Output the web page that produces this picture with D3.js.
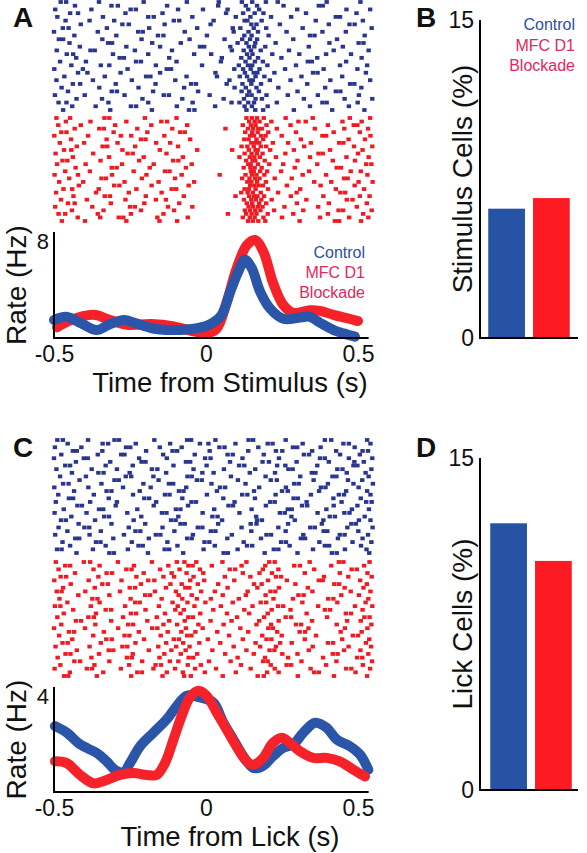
<!DOCTYPE html>
<html><head><meta charset="utf-8">
<script src="https://cdn.jsdelivr.net/npm/d3@7"></script>
<style>body{margin:0;background:#fff}svg{display:block;font-family:"Liberation Sans",Arial,sans-serif}</style>
</head><body><svg id="c" width="587" height="853"></svg>
<script>
// ---------- DATA ----------
const groups = ["Control", "MFC D1 Blockade"];
const stimCellsPct = [6.1, 6.6];
const lickCellsPct = [12.05, 10.35];
const xTicks = [-0.5, 0, 0.5];
const xTickLabels = ["-0.5", "0", "0.5"];
const yMaxStim = 8, yMaxLick = 4, barMax = 15;

// PSTH: [time (s), rate (Hz)]
const stimControl = [[-0.50,1.36],[-0.46,1.6],[-0.41,1.1],[-0.36,0.6],[-0.32,1.0],[-0.27,1.36],[-0.23,1.1],[-0.17,0.7],[-0.11,0.6],[-0.04,0.7],[0.01,1.0],[0.05,1.7],[0.08,3.5],[0.106,5.0],[0.128,5.9],[0.15,5.3],[0.178,3.5],[0.21,2.24],[0.254,1.45],[0.31,1.55],[0.342,1.6],[0.375,1.15],[0.42,0.6],[0.452,0.35],[0.49,0.1]];
const stimBlockade = [[-0.49,0.8],[-0.45,1.3],[-0.37,1.75],[-0.32,1.4],[-0.26,1.0],[-0.18,1.05],[-0.11,0.9],[-0.04,0.5],[0.0,0.35],[0.035,0.7],[0.068,2.7],[0.10,5.2],[0.134,7.0],[0.161,7.4],[0.189,6.5],[0.22,4.2],[0.254,2.5],[0.287,1.9],[0.342,2.1],[0.375,2.05],[0.419,1.75],[0.463,1.5],[0.50,1.28]];
const lickControl = [[-0.497,2.51],[-0.458,2.26],[-0.414,1.81],[-0.36,1.49],[-0.327,1.17],[-0.30,0.85],[-0.272,0.75],[-0.25,1.1],[-0.217,1.74],[-0.173,2.26],[-0.129,2.77],[-0.096,3.28],[-0.063,3.67],[-0.02,3.6],[0.024,3.41],[0.057,2.64],[0.09,2.0],[0.123,1.36],[0.156,0.91],[0.188,1.0],[0.22,1.36],[0.254,1.68],[0.287,1.81],[0.32,2.26],[0.359,2.64],[0.397,2.45],[0.43,2.0],[0.474,1.74],[0.507,1.42],[0.534,0.85]];
const lickBlockade = [[-0.497,1.17],[-0.458,1.1],[-0.414,0.65],[-0.37,0.33],[-0.327,0.46],[-0.283,0.65],[-0.239,0.72],[-0.195,0.65],[-0.162,0.65],[-0.135,1.1],[-0.107,2.0],[-0.08,2.9],[-0.053,3.6],[-0.025,3.86],[0.002,3.67],[0.035,3.03],[0.068,2.38],[0.10,1.74],[0.134,1.17],[0.156,1.04],[0.188,1.3],[0.22,1.87],[0.249,2.07],[0.276,1.87],[0.309,1.55],[0.353,1.3],[0.397,1.3],[0.44,1.17],[0.485,0.85],[0.523,0.59]];

// Rasters: spike times in ms, one array per trial
const rasterStimControl = [
[-478,-460,-352,-205,-63,42,118,152,197,236,397,508],[-431,-311,-290,-128,40,131,168,255,371,384],[-496,-377,-248,-231,-92,-10,71,139,175,300,462,540],
[-447,-421,-265,-143,66,122,160,189,329,495],[-489,-339,-190,-172,-45,98,146,214,280,427,441],[-462,-383,-302,-106,-88,25,127,136,183,361,516],
[-412,-275,-254,-136,15,149,166,243,404,472,489],[-471,-452,-326,-187,-29,88,113,157,198,318,545],[-500,-356,-223,-208,-70,91,140,171,265,383,460],
[-433,-295,-158,-140,3,126,150,206,342,357,522],[-484,-470,-341,-212,-54,61,119,145,168,287,431],[-449,-322,-309,-177,-83,104,133,162,229,406,502,518],
[-415,-262,-151,-20,-6,80,141,159,195,338,450],[-491,-380,-366,-234,-112,85,124,148,180,273,420,535],[-458,-437,-306,-190,-39,17,135,153,218,307,395,477],
[-427,-284,-270,-121,52,116,143,171,248,366,512],[-480,-395,-230,-214,-97,49,130,161,187,335,348,461],[-443,-346,-318,-165,-13,108,138,152,202,296,441,530],
[-499,-405,-258,-129,-115,93,122,147,176,260,387,498],[-421,-390,-281,-151,31,128,157,169,225,352,367,526],[-466,-333,-197,-183,-64,36,111,135,163,192,314,448],
[-492,-372,-244,-101,77,143,154,210,278,409,540],[-438,-414,-297,-166,-49,-33,68,120,149,181,333,474,488],[-475,-351,-222,-72,94,131,166,238,392,511],
[-454,-310,-293,-174,-26,117,142,174,301,427,442],[-497,-399,-268,-139,-122,12,136,150,199,269,368,503],[-426,-342,-209,-78,58,125,163,184,322,456,547],
[-485,-459,-321,-190,-44,84,110,139,158,233,383,397,499],[-440,-363,-247,-230,-96,30,127,151,203,342,470],[-470,-315,-178,-56,-38,133,162,188,289,415,521]];
const rasterStimBlockade = [
[-492,-447,-334,-318,-201,-97,133,151,168,190,262,351,473,540],[-461,-380,-262,-147,-128,142,160,176,215,304,328,449,512],[-486,-412,-299,-180,-62,121,148,163,199,278,401,486,498],
[-432,-351,-336,-226,-111,64,138,155,172,184,233,358,455,533],[-476,-459,-304,-193,-85,-70,129,152,170,205,296,420,506],[-499,-388,-280,-246,-137,145,158,181,196,249,383,395,541],
[-444,-327,-214,-199,-52,126,140,166,188,312,469,523],[-481,-401,-291,-164,-118,149,161,175,220,270,345,438,452],[-425,-340,-325,-233,-92,117,136,157,180,198,323,487,547],
[-467,-443,-275,-152,-29,86,141,163,170,211,289,408,515],[-495,-371,-258,-241,-130,127,150,167,186,261,370,384,500],[-438,-319,-205,-76,110,144,159,177,230,342,462,535],
[-472,-456,-347,-220,-108,-91,132,153,162,193,301,417,490],[-490,-396,-276,-172,-47,139,147,171,208,254,366,527,544],[-429,-310,-294,-185,-66,124,146,160,183,292,430,444],
[-463,-382,-238,-135,-120,148,157,178,201,247,339,476,509],[-498,-421,-309,-196,-80,45,130,151,166,192,318,395,531],[-450,-344,-329,-211,-102,119,143,161,176,226,282,454,466],
[-483,-404,-268,-156,-39,136,149,168,197,356,412,502,548],[-418,-302,-285,-179,-57,145,159,173,187,266,377,489],[-469,-440,-353,-229,-113,-98,127,141,163,204,310,427,520],
[-493,-362,-254,-146,116,137,154,180,237,298,442,458],[-436,-333,-316,-198,-73,97,142,158,169,191,279,386,506,538],[-477,-392,-265,-165,-132,125,149,164,182,216,330,463,482],
[-454,-432,-313,-203,-88,134,152,175,198,299,404,529],[-496,-374,-250,-234,-125,-45,140,155,171,186,258,369,496],[-441,-337,-214,-105,128,145,162,179,224,320,436,451,545],
[-485,-463,-356,-247,-140,72,132,150,166,203,287,401,517],[-422,-348,-287,-272,-160,-60,121,144,160,189,250,375,471,534],[-474,-398,-262,-153,-95,138,154,172,195,308,424,438,510]];
const rasterLickControl = [
[-489,-471,-388,-301,-286,-170,-62,-49,31,140,155,262,391,412,530],[-455,-340,-322,-231,-118,-20,8,97,203,219,318,452,470,541],[-497,-410,-263,-249,-152,-80,44,61,172,286,300,377,489],
[-438,-425,-341,-197,-110,-95,12,139,230,251,349,428,515,533],[-476,-356,-279,-268,-141,-37,71,88,190,322,339,441,506],[-500,-402,-389,-220,-129,-3,15,120,240,375,391,470,547],
[-428,-315,-212,-199,-66,-52,79,186,207,298,404,488,519],[-463,-447,-330,-241,-107,2,109,126,234,261,366,485,498],[-492,-376,-293,-178,-160,-41,59,162,271,285,432,449,544],
[-441,-354,-337,-251,-131,-12,25,144,227,348,360,463,525],[-480,-395,-264,-246,-173,-61,-47,82,196,310,416,429,535],[-416,-301,-287,-156,-30,-14,105,213,233,354,467,514],
[-470,-452,-344,-206,-122,-108,18,130,290,305,401,485,549],[-499,-387,-273,-182,-65,46,63,175,263,378,393,502],[-434,-327,-311,-218,-89,-74,36,158,250,269,372,461,530],
[-486,-369,-240,-135,-120,3,119,136,229,345,437,454,541],[-451,-437,-320,-203,-187,-78,57,161,288,302,419,509],[-494,-381,-293,-164,-48,-33,94,211,226,331,446,527,545],
[-423,-408,-297,-172,-59,74,89,197,316,333,420,498],[-468,-352,-338,-226,-99,-84,27,150,269,282,396,480,536],[-498,-393,-259,-145,-130,-11,110,243,259,367,455,472],
[-443,-335,-319,-213,-91,21,38,165,281,407,424,522],[-477,-461,-365,-238,-115,-100,53,168,184,292,386,503,541],[-419,-311,-200,-84,-70,40,147,166,270,381,478,493],
[-485,-400,-384,-254,-143,-27,-12,117,238,343,358,465,548],[-456,-346,-232,-216,-104,16,31,149,262,387,399,501],[-496,-383,-270,-165,-150,-43,85,199,214,320,440,456,533],
[-430,-417,-305,-188,-62,-47,70,181,312,326,434,515],[-472,-362,-347,-244,-127,-5,11,124,247,263,373,482,544],[-447,-330,-222,-208,-94,29,135,152,275,391,405,510],
[-490,-475,-372,-257,-136,-121,-8,104,223,238,352,457,528],[-426,-318,-303,-191,-75,58,72,193,301,414,430,537]];
const rasterLickBlockade = [
[-494,-402,-381,-290,-178,-96,-71,-32,54,133,208,226,341,437,452,538],[-463,-447,-350,-237,-124,-58,-44,19,117,195,290,309,412,520],[-485,-370,-262,-245,-151,-87,-20,78,96,187,238,356,479,496],
[-431,-327,-309,-205,-113,-64,-9,121,176,217,325,440,531],[-478,-460,-354,-229,-140,-105,-41,62,146,230,247,388,468,545],[-499,-386,-278,-190,-170,-52,-6,93,204,266,371,384,507],
[-445,-341,-323,-214,-117,-80,-27,40,158,183,294,422,438,529],[-470,-366,-251,-233,-132,-68,-55,71,169,240,335,456,518],[-491,-475,-397,-283,-168,-99,-16,29,137,212,228,350,476,541],
[-420,-318,-200,-184,-90,-47,55,131,196,304,321,445,503],[-482,-374,-357,-248,-146,-78,-30,16,108,222,286,402,419,534],[-456,-350,-233,-218,-110,-61,-2,88,180,198,317,432,525],
[-497,-479,-379,-266,-155,-93,-38,49,153,237,254,369,490,547],[-437,-330,-312,-199,-101,-73,24,126,216,278,391,408,515],[-468,-362,-247,-230,-135,-84,-19,69,142,203,331,460,477],
[-489,-387,-369,-273,-162,-58,-43,102,191,262,280,398,521,538],[-428,-411,-312,-193,-121,-70,15,84,175,239,349,464,509],[-476,-364,-256,-240,-140,-95,-25,58,166,214,296,313,430,544],
[-500,-398,-289,-177,-160,-66,-11,113,205,220,337,457,531],[-451,-434,-336,-221,-126,-81,-35,37,139,234,308,326,443,512],[-483,-371,-268,-252,-149,-62,-48,76,185,249,362,483,500],
[-440,-328,-310,-204,-106,-89,6,121,199,215,325,448,537],[-472,-455,-346,-232,-131,-75,-22,47,163,244,282,401,418,526],[-495,-383,-275,-259,-157,-98,-54,91,178,230,351,469,543],
[-425,-320,-305,-188,-114,-67,21,133,209,225,338,454,508],[-462,-446,-352,-241,-137,-83,-29,63,157,251,301,417,433,534],[-488,-377,-260,-244,-153,-57,-42,104,194,270,385,497,514],
[-433,-414,-318,-210,-119,-91,10,81,188,203,314,429,546],[-479,-367,-253,-166,-148,-60,-17,115,213,265,280,395,516],[-498,-392,-375,-280,-173,-102,-36,33,147,226,344,461,478,540],
[-448,-338,-226,-211,-129,-76,-4,98,201,239,356,371,492],[-467,-453,-359,-246,-143,-72,-50,55,170,190,302,421,530]];

// ---------- STYLE ----------
const C = {rasterBlue:"#2a368e", rasterRed:"#f01a22", lineBlue:"#2b55a8", lineRed:"#f5222a",
  barBlue:"#2653a4", barRed:"#fd1a22", txtBlue:"#2d4f9f", txtRed:"#e2285a"};
const svg = d3.select("#c");
const F = '"Liberation Sans",Arial,sans-serif';

function raster(rows, x, y0, y1, color){
  const y = d3.scaleLinear().domain([0, rows.length-1]).range([y0, y1]);
  const pts = rows.flatMap((r,i)=>r.map(t=>({t:t/1000,i})));
  svg.append("g").selectAll("rect").data(pts).join("rect")
    .attr("x", d=>x(d.t)-2.2).attr("y", d=>y(d.i)-1.9).attr("width",4.4).attr("height",3.8)
    .attr("fill", color);
}
function psth(x, yTop, yBot, yMax, series, xTitle, titleY){
  const y = d3.scaleLinear().domain([0,yMax]).range([yBot,yTop]);
  const line = d3.line().x(d=>x(d[0])).y(d=>y(d[1])).curve(d3.curveCatmullRom.alpha(0.5));
  series.forEach(s=>{
    svg.append("path").attr("d", line(s.data)).attr("fill","none").attr("stroke",s.color)
      .attr("stroke-width",10).attr("stroke-linecap","round").attr("stroke-linejoin","round");
  });
  const ax = svg.append("g").attr("transform",`translate(0,${yBot})`)
    .call(d3.axisBottom(x).tickValues(xTicks).tickSize(0).tickFormat((d,i)=>xTickLabels[i]));
  ax.select(".domain").remove();
  ax.selectAll("text").attr("font-size",23).attr("font-family",F).attr("fill","#111").attr("dy",null).attr("y",24);
  svg.append("line").attr("x1",x(-0.5)).attr("x2",x(0.535)).attr("y1",yBot).attr("y2",yBot).attr("stroke","#000").attr("stroke-width",2);
  svg.append("line").attr("x1",x(-0.5)).attr("x2",x(-0.5)).attr("y1",yTop).attr("y2",yBot+1).attr("stroke","#000").attr("stroke-width",2);
  svg.append("text").attr("x",x(-0.5)-5).attr("y",yTop+17).attr("text-anchor","end").attr("font-size",22).attr("font-family",F).attr("fill","#111").text(yMax);
  svg.append("text").attr("x",x(0)+24).attr("y",titleY).attr("text-anchor","middle").attr("font-size",27.5).attr("font-family",F).attr("fill","#111").text(xTitle);
  svg.append("text").attr("transform",`translate(26,${(yTop+yBot)/2}) rotate(-90)`).attr("text-anchor","middle").attr("font-size",28).attr("font-family",F).attr("fill","#111").text("Rate (Hz)");
}
function bars(vals, y0, y1, xr, title){
  const x = d3.scaleBand().domain(groups).range(xr).paddingInner(0.18).paddingOuter(0.05);
  const y = d3.scaleLinear().domain([0,barMax]).range([y1,y0]);
  svg.append("g").selectAll("rect").data(groups).join("rect")
    .attr("x",d=>x(d)).attr("width",x.bandwidth()).attr("y",(d,i)=>y(vals[i])).attr("height",(d,i)=>y(0)-y(vals[i]))
    .attr("fill",(d,i)=>i?C.barRed:C.barBlue);
  svg.append("line").attr("x1",480).attr("x2",480).attr("y1",y(barMax)).attr("y2",y(0)).attr("stroke","#000").attr("stroke-width",2);
  svg.append("line").attr("x1",479).attr("x2",578).attr("y1",y(0)).attr("y2",y(0)).attr("stroke","#000").attr("stroke-width",2);
  svg.append("text").attr("x",474).attr("y",y(barMax)+8).attr("text-anchor","end").attr("font-size",23).attr("font-family",F).attr("fill","#111").text(barMax);
  svg.append("text").attr("x",474).attr("y",y(0)+8).attr("text-anchor","end").attr("font-size",23).attr("font-family",F).attr("fill","#111").text(0);
  svg.append("text").attr("transform",`translate(472,${(y0+y1)/2}) rotate(-90)`).attr("text-anchor","middle").attr("font-size",28).attr("font-family",F).attr("fill","#111").text(title);
}
function legend(xRight, yFirst, step){
  const lines = [["Control",C.txtBlue],["MFC D1",C.txtRed],["Blockade",C.txtRed]];
  lines.forEach((l,i)=>svg.append("text").attr("x",xRight).attr("y",yFirst+i*step).attr("text-anchor","end")
    .attr("font-size",16).attr("font-family",F).attr("fill",l[1]).text(l[0]));
}
function letter(t,x,y){ svg.append("text").attr("x",x).attr("y",y).attr("font-size",28).attr("font-weight","bold").attr("font-family",F).attr("fill","#111").text(t); }

const x = d3.scaleLinear().domain([-0.5,0.5]).range([54,358]);

// Panel A
raster(rasterStimControl, x, 2, 110, C.rasterBlue);
raster(rasterStimBlockade, x, 118, 221, C.rasterRed);
psth(x, 232, 338, yMaxStim, [{data:stimBlockade,color:C.lineRed},{data:stimControl,color:C.lineBlue}], "Time from Stimulus (s)", 392);
legend(365, 258, 20);
letter("A", 13, 27);
// Panel B
bars(stimCellsPct, 20, 338, [486,572], "Stimulus Cells (%)");
legend(575, 30, 20.5);
letter("B", 416, 27);
// Panel C
raster(rasterLickControl, x, 440, 553, C.rasterBlue);
raster(rasterLickBlockade, x, 562, 676, C.rasterRed);
psth(x, 687, 792, yMaxLick, [{data:lickControl,color:C.lineBlue},{data:lickBlockade,color:C.lineRed}], "Time from Lick (s)", 846);
letter("C", 13, 457);
// Panel D
bars(lickCellsPct, 458, 790, [488,574], "Lick Cells (%)");
letter("D", 416, 457);
</script></body></html>
